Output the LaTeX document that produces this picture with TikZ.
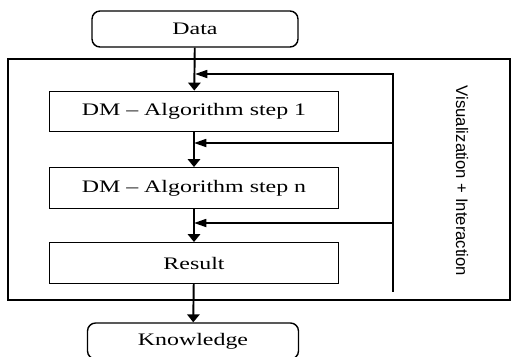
\documentclass[tikz,border=0pt]{standalone}
\usepackage{fontspec}
\setmainfont[FakeStretch=1.36]{Liberation Serif}
\newfontfamily\vifont{Liberation Sans}
\usetikzlibrary{arrows.meta}

\begin{document}
\begin{tikzpicture}[x=0.02cm, y=-0.02cm,
	stepbox/.style={draw, line width=0.8pt, minimum width=5.78cm, minimum height=0.81cm, font=\fontsize{10}{12}\selectfont},
	endbox/.style={draw, line width=0.8pt, rounded corners=0.16cm, minimum height=0.72cm, font=\fontsize{10}{12}\selectfont},
	down/.style={line width=1.1pt, -{Triangle[length=4.5pt, width=7pt]}},
	back/.style={line width=1.1pt, -{Triangle[length=7pt, width=4.5pt]}}]
	\useasboundingbox (0,0) rectangle (511,356);

	% Outer frame
	\node[draw, line width=0.8pt, minimum width=10.04cm, minimum height=4.82cm] (frame) at (259, 179.5) {};

	% Process boxes
	\node[endbox, minimum width=4.12cm] (data) at (195, 29) {Data};
	\node[stepbox] (dm1) at (194, 111.5) {DM -- Algorithm step 1};
	\node[stepbox] (dm2) at (194, 188) {DM -- Algorithm step n};
	\node[stepbox] (result) at (194, 263) {Result};
	\node[endbox, minimum width=4.22cm] (know) at (193, 341) {Knowledge};

	% Main flow
	\draw[down] (data) -- (dm1);
	\draw[down] (dm1) -- (dm2);
	\draw[down] (dm2) -- (result);
	\draw[down] (result) -- (know);

	% Feedback bar
	\coordinate (top) at (393, 73);
	\coordinate (bottom) at (393, 292);
	\draw[line width=1.7pt] (top) -- (bottom);
	\coordinate (fb1) at (393, 74);
	\coordinate (fb2) at (393, 143);
	\coordinate (fb3) at (393, 223);
	\draw[back] (fb1) -- (fb1 -| data.south);
	\draw[back] (fb2) -- (fb2 -| dm1.south);
	\draw[back] (fb3) -- (fb3 -| dm2.south);

	\node[rotate=-90, font=\vifont\fontsize{9.5}{11}\selectfont] (vis) at (462, 181) {Visualization + Interaction};
\end{tikzpicture}
\end{document}
